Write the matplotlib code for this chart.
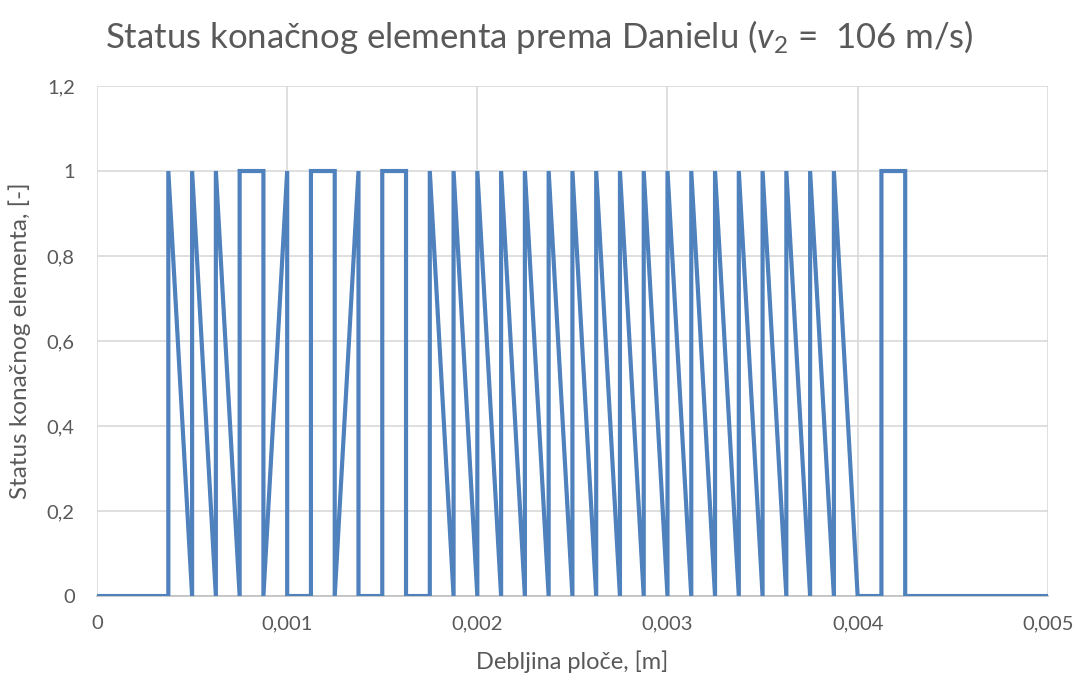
import matplotlib
matplotlib.use("Agg")
from matplotlib import pyplot as plt
from matplotlib.ticker import FuncFormatter

# vertices of the status curve (x in m, status 0/1)
debljina = [0, 0.000375, 0.000375, 0.0005, 0.0005, 0.000625, 0.000625, 0.00075,
            0.00075, 0.000875, 0.000875, 0.001, 0.001, 0.001125, 0.001125, 0.00125,
            0.00125, 0.001375, 0.001375, 0.0015, 0.0015, 0.001625, 0.001625, 0.00175,
            0.00175, 0.001875, 0.001875, 0.002, 0.002, 0.002125, 0.002125, 0.00225,
            0.00225, 0.002375, 0.002375, 0.0025, 0.0025, 0.002625, 0.002625, 0.00275,
            0.00275, 0.002875, 0.002875, 0.003, 0.003, 0.003125, 0.003125, 0.00325,
            0.00325, 0.003375, 0.003375, 0.0035, 0.0035, 0.003625, 0.003625, 0.00375,
            0.00375, 0.003875, 0.003875, 0.004, 0.004125, 0.004125, 0.00425, 0.00425,
            0.005]
status = [0, 0, 1, 0, 1, 0, 1, 0,
          1, 1, 0, 1, 0, 0, 1, 1,
          0, 1, 0, 0, 1, 1, 0, 0,
          1, 0, 1, 0, 1, 0, 1, 0,
          1, 0, 1, 0, 1, 0, 1, 0,
          1, 0, 1, 0, 1, 0, 1, 0,
          1, 0, 1, 0, 1, 0, 1, 0,
          1, 0, 1, 0, 0, 1, 1, 0,
          0]

x_ticks = [0, 0.001, 0.002, 0.003, 0.004, 0.005]
y_ticks = [0, 0.2, 0.4, 0.6, 0.8, 1.0, 1.2]

plt.rcParams['font.family'] = ['Lato', 'DejaVu Sans']
plt.rcParams['mathtext.fontset'] = 'custom'
plt.rcParams['mathtext.it'] = 'Lato:italic'
plt.rcParams['mathtext.rm'] = 'Lato'

txt = '#595959'
fig = plt.figure(figsize=(10.78, 6.79), dpi=100)
ax = fig.add_axes([0.09, 0.1222, 0.882, 0.7511])

ax.plot(debljina, status, color='#4f81bd', linewidth=3.0, solid_joinstyle='miter', zorder=3)

ax.set_xlim(0, 0.005)
ax.set_ylim(0, 1.2)
ax.set_xticks(x_ticks)
ax.set_yticks(y_ticks)
comma = FuncFormatter(lambda v, p: ('%g' % round(v, 6)).replace('.', ','))
ax.xaxis.set_major_formatter(comma)
ax.yaxis.set_major_formatter(comma)
ax.tick_params(length=0, labelsize=14.5, colors=txt)
ax.tick_params(axis='x', pad=14)
ax.tick_params(axis='y', pad=16)
ax.grid(True, color='#d9d9d9', linewidth=1.2)
ax.set_axisbelow(True)
for s in ['top', 'right', 'left']:
    ax.spines[s].set_visible(False)
ax.spines['bottom'].set_color('#bfbfbf')
ax.spines['bottom'].set_linewidth(1.2)

ax.set_xlabel('Debljina ploče, [m]', fontsize=17, color=txt, va='center')
ax.xaxis.set_label_coords(0.5, -0.129)
ax.set_ylabel('Status konačnog elementa, [-]', fontsize=17.5, color=txt, va='center')
ax.yaxis.set_label_coords(-0.081, 0.5)
fig.text(0.5, 0.945, 'Status konačnog elementa prema Danielu ($v_2$ =  106 m/s)',
         fontsize=25, color=txt, ha='center', va='center')

fig.savefig('out.png', dpi=100)
